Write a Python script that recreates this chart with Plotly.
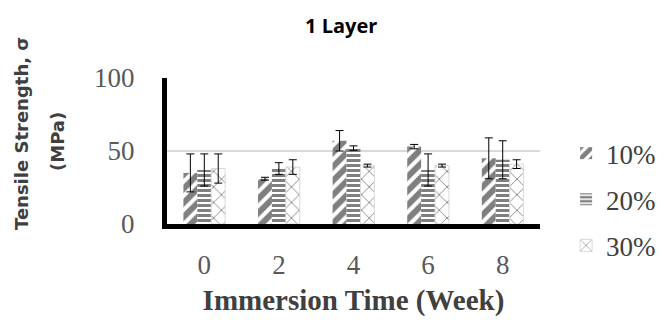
import plotly.graph_objects as go

weeks = ["0", "2", "4", "6", "8"]
s10 = [35, 31, 57, 53, 45]
e10 = [13, 1, 7, 1.5, 14]
s20 = [37, 38, 52, 37, 44]
e20 = [11, 4, 1.5, 11, 13]
s30 = [38, 39, 40, 40, 41]
e30 = [10, 5, 1, 1, 3]
names = ["10%", "20%", "30%"]

# page has an 8px body margin; plot area target: x 167..540, y 78..224 (page px)
L, T, W, H = 159, 70, 373, 146

fig = go.Figure()
specs = [
    (s10, e10, "/", 0.6, 10, "rgba(0,0,0,0)"),
    (s20, e20, "-", 0.6, 5, "rgba(0,0,0,0)"),
    (s30, e30, "x", 0.15, 11, "#d9d9d9"),
]
for name, (vals, errs, shape, sol, sz, lc) in zip(names, specs):
    fig.add_trace(go.Bar(
        x=weeks, y=vals, name=name, legendgroup=name,
        error_y=dict(type="data", array=errs, color="black", thickness=1, width=4),
        marker=dict(color="white", line=dict(color=lc, width=1),
                    pattern=dict(shape=shape, fgcolor="black", bgcolor="white",
                                 solidity=sol, size=sz)),
    ))

fig.update_layout(
    width=671, height=329,
    margin=dict(l=L, r=671 - L - W, t=T, b=329 - T - H),
    paper_bgcolor="white", plot_bgcolor="white",
    barmode="group", bargap=0.44, bargroupgap=0,
    showlegend=True,
    legend=dict(x=1.07, y=0.65, yanchor="top", xanchor="left",
                traceorder="grouped", tracegroupgap=8,
                font=dict(family="Liberation Serif", size=27, color="#404040"),
                itemwidth=30),
    font=dict(family="Liberation Serif", color="#595959"),
)
fig.update_xaxes(
    showline=True, linecolor="black", linewidth=5, ticks="",
    ticklabelstandoff=13,
    tickfont=dict(family="Liberation Serif", size=27, color="#595959"),
    title=dict(text="<b>Immersion Time (Week)</b>",
               font=dict(family="Liberation Serif", size=29, color="#404040"),
               standoff=12),
)
fig.update_yaxes(
    range=[0, 100], tickvals=[0, 50, 100], showline=True, linecolor="black",
    linewidth=5, showgrid=True, gridcolor="#d9d9d9", gridwidth=2,
    tickfont=dict(family="Liberation Serif", size=27, color="#595959"),
    ticklabelstandoff=22, zeroline=False,
)

def px(xp):
    return (xp - 8 - L) / W

def py(yp):
    return (T + H - (yp - 8)) / H

fig.add_annotation(text="<b>1 Layer</b>", xref="paper", yref="paper",
                   x=px(341), y=py(26), xanchor="center", yanchor="middle",
                   showarrow=False,
                   font=dict(family="Open Sans", size=20, color="black"))
fig.add_annotation(text="<b>Tensile Strength, σ</b>", xref="paper",
                   yref="paper", x=px(21), y=py(134), xanchor="center",
                   yanchor="middle", showarrow=False, textangle=-90,
                   font=dict(family="DejaVu Sans", size=18, color="#404040"))
fig.add_annotation(text="<b>(MPa)</b>", xref="paper",
                   yref="paper", x=px(57), y=py(142), xanchor="center",
                   yanchor="middle", showarrow=False, textangle=-90,
                   font=dict(family="DejaVu Sans", size=18, color="#404040"))
fig.write_html("out.html")
